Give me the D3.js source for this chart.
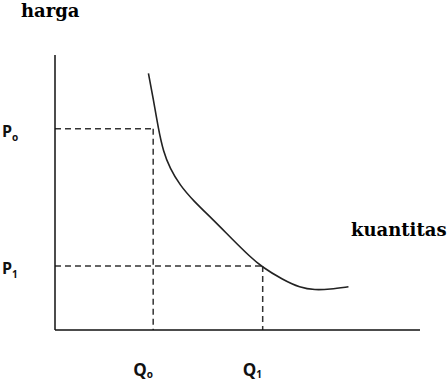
<!DOCTYPE html>
<html>
<head>
<meta charset="utf-8">
<script src="https://cdn.jsdelivr.net/npm/d3@7"></script>
<style>
  body { margin: 0; background: #fff; }
  svg { display: block; }
  text.serif { font-family: "DejaVu Serif", serif; font-weight: bold; }
  text.sans { font-family: "Open Sans", "DejaVu Sans", sans-serif; font-weight: bold; }
</style>
</head>
<body>
<div class="container"></div>
<script>
// Demand curve (arbitrary units, 0..10 on both axes).
const curveQ = [2.56, 2.69, 2.83, 2.97, 3.15, 3.42, 3.79, 4.34, 4.88, 5.34, 5.66, 6.25, 6.71, 7.12, 7.53, 8.04];
const curveP = [9.33, 8.43, 7.33, 6.48, 5.88, 5.27, 4.70, 4.00, 3.27, 2.67, 2.30, 1.82, 1.54, 1.45, 1.48, 1.57];

// Reference quantities and prices
const qLevels = [2.69, 5.69];
const pLevels = [7.32, 2.33];
const qNames = ["Q", "Q"];
const qSubs = ["o", "1"];
const pNames = ["P", "P"];
const pSubs = ["o", "1"];

const yTitle = "harga";
const xTitle = "kuantitas";

const width = 447;
const height = 390;

const x = d3.scaleLinear().domain([0, 10]).range([55, 420]);
const y = d3.scaleLinear().domain([0, 10]).range([330, 55]);

const svg = d3.select(".container")
    .append("svg")
    .attr("width", width)
    .attr("height", height);

// Dashed guide lines
const guides = svg.append("g")
    .attr("stroke", "#333")
    .attr("stroke-width", 1.5)
    .attr("stroke-dasharray", "6,4");

qLevels.forEach((q, i) => {
    guides.append("line")
        .attr("x1", x(0)).attr("x2", x(q))
        .attr("y1", y(pLevels[i])).attr("y2", y(pLevels[i]));
    guides.append("line")
        .attr("x1", x(q)).attr("x2", x(q))
        .attr("y1", y(pLevels[i])).attr("y2", y(0));
});

// Axes (plain lines, no ticks)
svg.append("line")
    .attr("x1", x(0)).attr("x2", x(0))
    .attr("y1", y(10)).attr("y2", y(0))
    .attr("stroke", "#111").attr("stroke-width", 1.5);
svg.append("line")
    .attr("x1", x(0)).attr("x2", x(10))
    .attr("y1", y(0)).attr("y2", y(0))
    .attr("stroke", "#111").attr("stroke-width", 1.5);

// The curve
const pts = curveQ.map((q, i) => [q, curveP[i]]);
svg.append("path")
    .datum(pts)
    .attr("fill", "none")
    .attr("stroke", "#222")
    .attr("stroke-width", 1.6)
    .attr("d", d3.line()
        .x(d => x(d[0]))
        .y(d => y(d[1]))
        .curve(d3.curveBasis));

// Axis titles
svg.append("text")
    .attr("class", "serif")
    .attr("x", 21).attr("y", 17)
    .style("font-size", "18px")
    .text(yTitle);

svg.append("text")
    .attr("class", "serif")
    .attr("x", 351).attr("y", 236)
    .style("font-size", "18px")
    .text(xTitle);

// P labels
pLevels.forEach((p, i) => {
    const t = svg.append("text")
        .attr("class", "sans")
        .attr("x", 2)
        .attr("y", y(p) + 8)
        .style("font-size", "16px")
        .attr("fill", "#111");
    t.append("tspan").text(pNames[i]);
    t.append("tspan")
        .style("font-size", "10px")
        .attr("dy", 4)
        .text(pSubs[i]);
});

// Q labels
qLevels.forEach((q, i) => {
    const t = svg.append("text")
        .attr("class", "sans")
        .attr("x", x(q) - 20)
        .attr("y", 376)
        .style("font-size", "17px")
        .attr("fill", "#111");
    t.append("tspan").text(qNames[i]);
    t.append("tspan")
        .style("font-size", "10px")
        .attr("dy", 2)
        .text(qSubs[i]);
});
</script>
</body>
</html>
